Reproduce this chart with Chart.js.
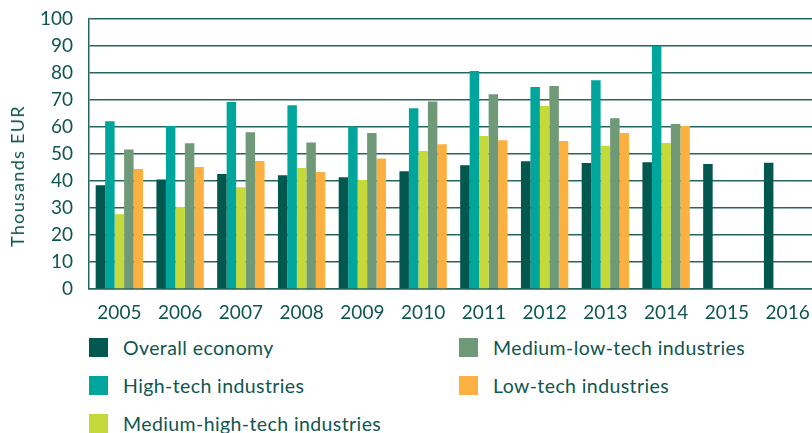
<!DOCTYPE html>
<html>
<head>
<meta charset="utf-8">
<script src="https://cdn.jsdelivr.net/npm/chart.js@4"></script>
<style>
  html, body { margin: 0; padding: 0; background: #fff; overflow: hidden; }
  #container { position: relative; width: 812px; height: 433px; overflow: hidden; font-family: Lato, sans-serif; color: #0e564f; }
  #chartBox { position: absolute; left: 0; top: 0; width: 818px; height: 330px; }
  #yTitle { position: absolute; left: 17px; top: 176px; transform: translate(-50%, -50%) rotate(-90deg); font-size: 18px; letter-spacing: 1.3px; white-space: nowrap; }
  #legend { position: absolute; left: 89px; top: 338px; display: grid; grid-template-columns: 370px 340px; grid-template-rows: 38px 38px 38px; grid-auto-flow: column; }
  .item { display: flex; align-items: center; height: 19px; font-size: 19.5px; letter-spacing: 0.4px; }
  .box { width: 19px; height: 19px; margin-right: 15px; flex: none; }
</style>
</head>
<body>
<div id="container">
  <div id="chartBox"><canvas id="myChart"></canvas></div>
  <div id="yTitle">Thousands EUR</div>
  <div id="legend"></div>
</div>
<script>
const years = ['2005', '2006', '2007', '2008', '2009', '2010', '2011', '2012', '2013', '2014', '2015', '2016']
const overall = [38.4, 40.6, 42.6, 42.1, 41.4, 43.6, 45.8, 47.3, 46.7, 46.9, 46.3, 46.8]
const highTech = [62.1, 60.4, 69.3, 68.1, 60.2, 66.9, 80.7, 74.8, 77.3, 90.0, null, null]
const mediumHigh = [27.7, 30.4, 37.7, 44.8, 40.4, 51.1, 56.7, 67.8, 53.1, 54.1, null, null]
const mediumLow = [51.7, 54.0, 58.1, 54.3, 57.8, 69.4, 72.1, 75.2, 63.2, 61.1, null, null]
const lowTech = [44.4, 45.2, 47.4, 43.3, 48.3, 53.6, 55.1, 54.8, 57.8, 60.4, null, null]
const yTicks = [0, 10, 20, 30, 40, 50, 60, 70, 80, 90, 100]

const series = [
    { label: 'Overall economy', data: overall, color: '#02574f' },
    { label: 'High-tech industries', data: highTech, color: '#00a69c' },
    { label: 'Medium-high-tech industries', data: mediumHigh, color: '#c5d93a' },
    { label: 'Medium-low-tech industries', data: mediumLow, color: '#6f9977' },
    { label: 'Low-tech industries', data: lowTech, color: '#fbb040' },
]

const textColor = '#0e564f'
const gridColor = '#27665f'

var ctx = document.getElementById('myChart').getContext('2d')
new Chart(ctx, {
    type: 'bar',
    data: {
        labels: years,
        datasets: series.map(s => {
            return {
                label: s.label,
                data: s.data,
                backgroundColor: s.color,
                borderWidth: 0,
                barPercentage: 1,
                categoryPercentage: 0.78,
            }
        })
    },
    options: {
        responsive: true,
        maintainAspectRatio: false,
        animation: false,
        layout: { padding: { top: 19, right: 0, left: 0, bottom: 0 } },
        plugins: {
            legend: { display: false },
            tooltip: { enabled: false },
        },
        scales: {
            x: {
                grid: { display: false, drawTicks: false },
                border: { color: gridColor, width: 1.5 },
                ticks: { color: textColor, font: { family: 'Lato', size: 19 }, padding: 12 },
                afterFit: scale => {
                    scale.height = 41
                    scale.paddingLeft = 0
                    scale.paddingRight = 0
                },
            },
            y: {
                min: 0,
                max: 100,
                afterBuildTicks: scale => { scale.ticks = yTicks.map(v => ({ value: v })) },
                grid: { color: gridColor, lineWidth: 1.5, drawTicks: false },
                border: { color: gridColor, width: 1.5 },
                ticks: { color: textColor, font: { family: 'Lato', size: 19 }, padding: 16 },
                afterFit: scale => {
                    scale.width = 89
                    scale.paddingTop = 0
                    scale.paddingBottom = 0
                },
            }
        }
    }
})

// legend built from the same series list, two columns
const legend = document.getElementById('legend')
series.forEach(s => {
    const item = document.createElement('div')
    item.className = 'item'
    item.innerHTML = '<span class="box" style="background:' + s.color + '"></span><span>' + s.label + '</span>'
    legend.appendChild(item)
})
</script>
</body>
</html>
